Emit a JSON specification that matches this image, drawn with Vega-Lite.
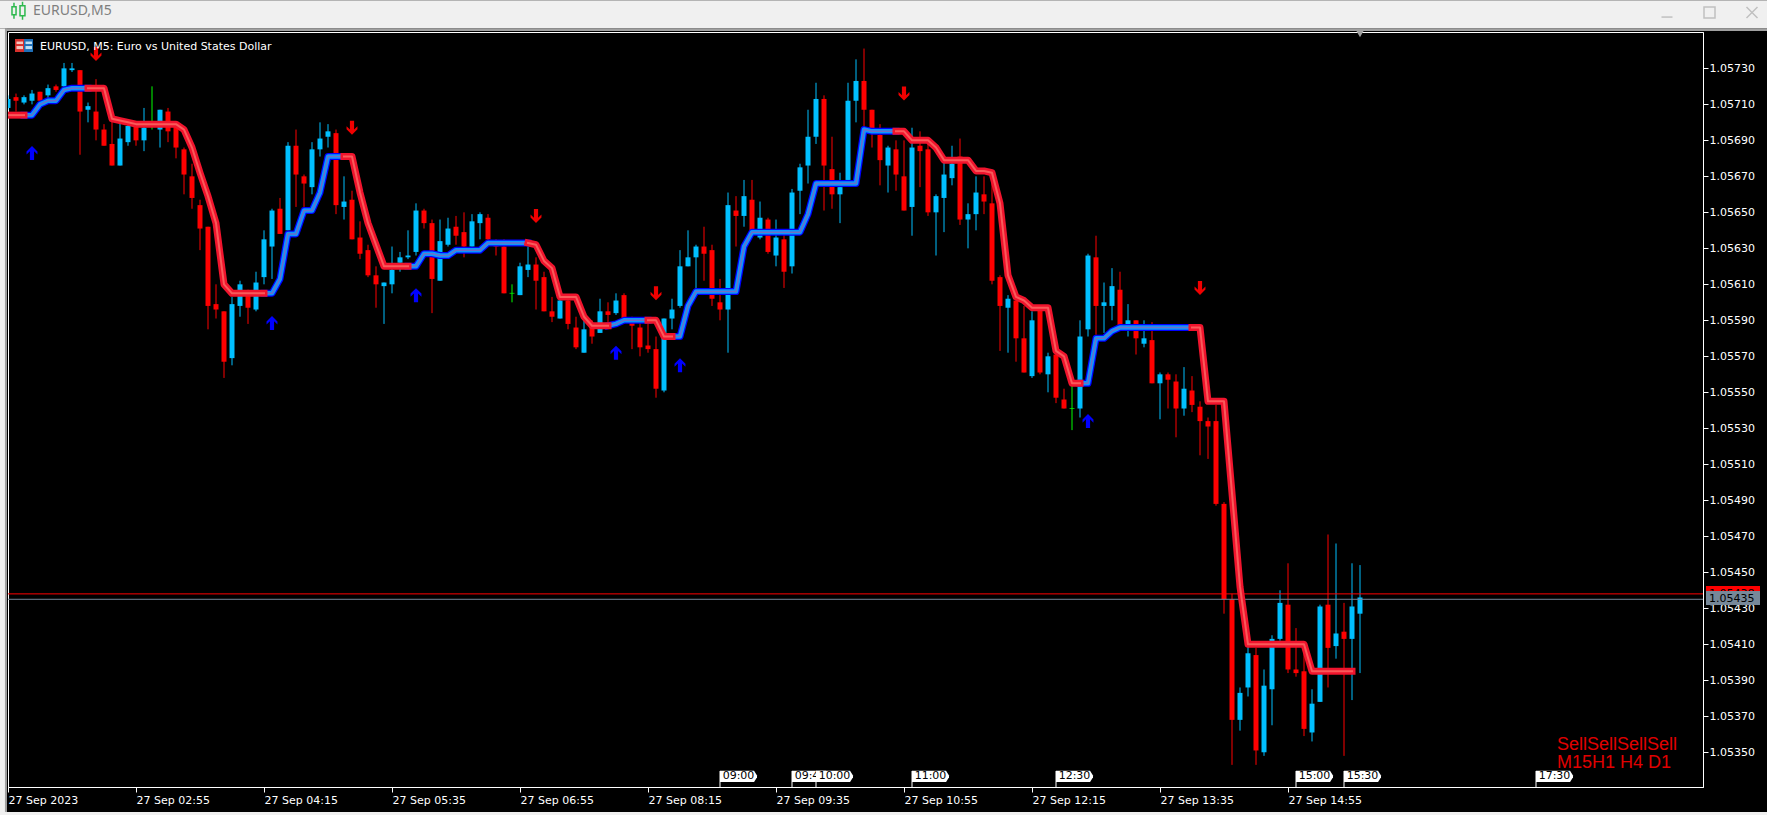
{"$schema":"https://vega.github.io/schema/vega-lite/v6.json","width":1695,"height":755,"autosize":{"type":"none"},"padding":{"left":8,"top":32,"right":64,"bottom":28},"background":"#000000","config":{"view":{"stroke":"#ffffff","strokeWidth":1,"fill":"#000000"},"font":"DejaVu Sans","axis":{"labelOverlap":false},"scale":{"continuousPadding":0}},
"datasets":{
"candles":[
{"t":"2023-09-27T01:35","o":1.05708,"h":1.05715,"l":1.05707,"c":1.05713},
{"t":"2023-09-27T01:40","o":1.05714,"h":1.05716,"l":1.05706,"c":1.05712},
{"t":"2023-09-27T01:45","o":1.05711,"h":1.05715,"l":1.05710,"c":1.05714},
{"t":"2023-09-27T01:50","o":1.05712,"h":1.05718,"l":1.05710,"c":1.05716},
{"t":"2023-09-27T01:55","o":1.05717,"h":1.05717,"l":1.05711,"c":1.05712},
{"t":"2023-09-27T02:00","o":1.05715,"h":1.05721,"l":1.05713,"c":1.05719},
{"t":"2023-09-27T02:05","o":1.05720,"h":1.05721,"l":1.05717,"c":1.05718},
{"t":"2023-09-27T02:10","o":1.05720,"h":1.05733,"l":1.05719,"c":1.05730},
{"t":"2023-09-27T02:15","o":1.05729,"h":1.05733,"l":1.05728,"c":1.05730},
{"t":"2023-09-27T02:20","o":1.05729,"h":1.05729,"l":1.05682,"c":1.05706},
{"t":"2023-09-27T02:25","o":1.05707,"h":1.05711,"l":1.05700,"c":1.05709},
{"t":"2023-09-27T02:30","o":1.05706,"h":1.05724,"l":1.05690,"c":1.05696},
{"t":"2023-09-27T02:35","o":1.05696,"h":1.05699,"l":1.05687,"c":1.05687},
{"t":"2023-09-27T02:40","o":1.05688,"h":1.05703,"l":1.05676,"c":1.05676},
{"t":"2023-09-27T02:45","o":1.05676,"h":1.05701,"l":1.05676,"c":1.05691},
{"t":"2023-09-27T02:50","o":1.05689,"h":1.05700,"l":1.05687,"c":1.05698},
{"t":"2023-09-27T02:55","o":1.05698,"h":1.05700,"l":1.05687,"c":1.05690},
{"t":"2023-09-27T03:00","o":1.05690,"h":1.05708,"l":1.05684,"c":1.05697},
{"t":"2023-09-27T03:05","o":1.05699,"h":1.05720,"l":1.05696,"c":1.05699},
{"t":"2023-09-27T03:10","o":1.05696,"h":1.05707,"l":1.05686,"c":1.05707},
{"t":"2023-09-27T03:15","o":1.05706,"h":1.05708,"l":1.05689,"c":1.05695},
{"t":"2023-09-27T03:20","o":1.05698,"h":1.05700,"l":1.05680,"c":1.05686},
{"t":"2023-09-27T03:25","o":1.05685,"h":1.05686,"l":1.05660,"c":1.05671},
{"t":"2023-09-27T03:30","o":1.05670,"h":1.05677,"l":1.05652,"c":1.05658},
{"t":"2023-09-27T03:35","o":1.05654,"h":1.05657,"l":1.05629,"c":1.05641},
{"t":"2023-09-27T03:40","o":1.05642,"h":1.05642,"l":1.05585,"c":1.05598},
{"t":"2023-09-27T03:45","o":1.05599,"h":1.05610,"l":1.05591,"c":1.05596},
{"t":"2023-09-27T03:50","o":1.05595,"h":1.05595,"l":1.05558,"c":1.05567},
{"t":"2023-09-27T03:55","o":1.05569,"h":1.05603,"l":1.05565,"c":1.05599},
{"t":"2023-09-27T04:00","o":1.05598,"h":1.05612,"l":1.05592,"c":1.05610},
{"t":"2023-09-27T04:05","o":1.05605,"h":1.05607,"l":1.05588,"c":1.05597},
{"t":"2023-09-27T04:10","o":1.05596,"h":1.05617,"l":1.05595,"c":1.05611},
{"t":"2023-09-27T04:15","o":1.05614,"h":1.05640,"l":1.05610,"c":1.05635},
{"t":"2023-09-27T04:20","o":1.05631,"h":1.05652,"l":1.05613,"c":1.05651},
{"t":"2023-09-27T04:25","o":1.05652,"h":1.05658,"l":1.05638,"c":1.05638},
{"t":"2023-09-27T04:30","o":1.05640,"h":1.05689,"l":1.05640,"c":1.05687},
{"t":"2023-09-27T04:35","o":1.05687,"h":1.05696,"l":1.05653,"c":1.05671},
{"t":"2023-09-27T04:40","o":1.05670,"h":1.05671,"l":1.05653,"c":1.05666},
{"t":"2023-09-27T04:45","o":1.05664,"h":1.05689,"l":1.05660,"c":1.05685},
{"t":"2023-09-27T04:50","o":1.05685,"h":1.05700,"l":1.05681,"c":1.05691},
{"t":"2023-09-27T04:55","o":1.05692,"h":1.05699,"l":1.05686,"c":1.05695},
{"t":"2023-09-27T05:00","o":1.05694,"h":1.05696,"l":1.05649,"c":1.05654},
{"t":"2023-09-27T05:05","o":1.05653,"h":1.05670,"l":1.05646,"c":1.05656},
{"t":"2023-09-27T05:10","o":1.05657,"h":1.05662,"l":1.05635,"c":1.05635},
{"t":"2023-09-27T05:15","o":1.05636,"h":1.05645,"l":1.05624,"c":1.05627},
{"t":"2023-09-27T05:20","o":1.05629,"h":1.05632,"l":1.05614,"c":1.05615},
{"t":"2023-09-27T05:25","o":1.05615,"h":1.05620,"l":1.05597,"c":1.05610},
{"t":"2023-09-27T05:30","o":1.05609,"h":1.05611,"l":1.05588,"c":1.05611},
{"t":"2023-09-27T05:35","o":1.05610,"h":1.05631,"l":1.05605,"c":1.05618},
{"t":"2023-09-27T05:40","o":1.05622,"h":1.05628,"l":1.05617,"c":1.05625},
{"t":"2023-09-27T05:45","o":1.05625,"h":1.05640,"l":1.05624,"c":1.05626},
{"t":"2023-09-27T05:50","o":1.05628,"h":1.05655,"l":1.05626,"c":1.05651},
{"t":"2023-09-27T05:55","o":1.05651,"h":1.05652,"l":1.05641,"c":1.05644},
{"t":"2023-09-27T06:00","o":1.05644,"h":1.05646,"l":1.05594,"c":1.05613},
{"t":"2023-09-27T06:05","o":1.05612,"h":1.05646,"l":1.05612,"c":1.05634},
{"t":"2023-09-27T06:10","o":1.05632,"h":1.05647,"l":1.05631,"c":1.05641},
{"t":"2023-09-27T06:15","o":1.05642,"h":1.05648,"l":1.05632,"c":1.05637},
{"t":"2023-09-27T06:20","o":1.05639,"h":1.05650,"l":1.05625,"c":1.05631},
{"t":"2023-09-27T06:25","o":1.05631,"h":1.05649,"l":1.05631,"c":1.05645},
{"t":"2023-09-27T06:30","o":1.05644,"h":1.05650,"l":1.05635,"c":1.05649},
{"t":"2023-09-27T06:35","o":1.05647,"h":1.05649,"l":1.05633,"c":1.05635},
{"t":"2023-09-27T06:40","o":1.05634,"h":1.05635,"l":1.05626,"c":1.05631},
{"t":"2023-09-27T06:45","o":1.05631,"h":1.05635,"l":1.05605,"c":1.05605},
{"t":"2023-09-27T06:50","o":1.05605,"h":1.05610,"l":1.05600,"c":1.05605},
{"t":"2023-09-27T06:55","o":1.05604,"h":1.05622,"l":1.05604,"c":1.05620},
{"t":"2023-09-27T07:00","o":1.05618,"h":1.05631,"l":1.05614,"c":1.05621},
{"t":"2023-09-27T07:05","o":1.05621,"h":1.05625,"l":1.05596,"c":1.05612},
{"t":"2023-09-27T07:10","o":1.05614,"h":1.05617,"l":1.05595,"c":1.05595},
{"t":"2023-09-27T07:15","o":1.05595,"h":1.05603,"l":1.05589,"c":1.05592},
{"t":"2023-09-27T07:20","o":1.05591,"h":1.05604,"l":1.05591,"c":1.05601},
{"t":"2023-09-27T07:25","o":1.05601,"h":1.05603,"l":1.05585,"c":1.05588},
{"t":"2023-09-27T07:30","o":1.05586,"h":1.05592,"l":1.05574,"c":1.05575},
{"t":"2023-09-27T07:35","o":1.05572,"h":1.05592,"l":1.05572,"c":1.05585},
{"t":"2023-09-27T07:40","o":1.05587,"h":1.05590,"l":1.05577,"c":1.05581},
{"t":"2023-09-27T07:45","o":1.05583,"h":1.05602,"l":1.05583,"c":1.05595},
{"t":"2023-09-27T07:50","o":1.05595,"h":1.05600,"l":1.05587,"c":1.05593},
{"t":"2023-09-27T07:55","o":1.05594,"h":1.05605,"l":1.05593,"c":1.05601},
{"t":"2023-09-27T08:00","o":1.05604,"h":1.05605,"l":1.05588,"c":1.05590},
{"t":"2023-09-27T08:05","o":1.05589,"h":1.05592,"l":1.05574,"c":1.05587},
{"t":"2023-09-27T08:10","o":1.05586,"h":1.05591,"l":1.05570,"c":1.05575},
{"t":"2023-09-27T08:15","o":1.05576,"h":1.05590,"l":1.05572,"c":1.05574},
{"t":"2023-09-27T08:20","o":1.05574,"h":1.05581,"l":1.05547,"c":1.05552},
{"t":"2023-09-27T08:25","o":1.05551,"h":1.05591,"l":1.05550,"c":1.05591},
{"t":"2023-09-27T08:30","o":1.05591,"h":1.05602,"l":1.05585,"c":1.05596},
{"t":"2023-09-27T08:35","o":1.05598,"h":1.05629,"l":1.05597,"c":1.05620},
{"t":"2023-09-27T08:40","o":1.05620,"h":1.05640,"l":1.05620,"c":1.05625},
{"t":"2023-09-27T08:45","o":1.05625,"h":1.05632,"l":1.05607,"c":1.05631},
{"t":"2023-09-27T08:50","o":1.05631,"h":1.05642,"l":1.05612,"c":1.05627},
{"t":"2023-09-27T08:55","o":1.05629,"h":1.05632,"l":1.05598,"c":1.05602},
{"t":"2023-09-27T09:00","o":1.05600,"h":1.05613,"l":1.05590,"c":1.05596},
{"t":"2023-09-27T09:05","o":1.05596,"h":1.05661,"l":1.05572,"c":1.05654},
{"t":"2023-09-27T09:10","o":1.05651,"h":1.05659,"l":1.05631,"c":1.05648},
{"t":"2023-09-27T09:15","o":1.05648,"h":1.05668,"l":1.05642,"c":1.05659},
{"t":"2023-09-27T09:20","o":1.05657,"h":1.05668,"l":1.05638,"c":1.05640},
{"t":"2023-09-27T09:25","o":1.05636,"h":1.05656,"l":1.05635,"c":1.05647},
{"t":"2023-09-27T09:30","o":1.05646,"h":1.05647,"l":1.05627,"c":1.05628},
{"t":"2023-09-27T09:35","o":1.05626,"h":1.05646,"l":1.05620,"c":1.05636},
{"t":"2023-09-27T09:40","o":1.05635,"h":1.05638,"l":1.05608,"c":1.05617},
{"t":"2023-09-27T09:45","o":1.05620,"h":1.05663,"l":1.05616,"c":1.05661},
{"t":"2023-09-27T09:50","o":1.05662,"h":1.05677,"l":1.05649,"c":1.05675},
{"t":"2023-09-27T09:55","o":1.05676,"h":1.05707,"l":1.05666,"c":1.05692},
{"t":"2023-09-27T10:00","o":1.05692,"h":1.05722,"l":1.05688,"c":1.05713},
{"t":"2023-09-27T10:05","o":1.05713,"h":1.05715,"l":1.05651,"c":1.05676},
{"t":"2023-09-27T10:10","o":1.05674,"h":1.05692,"l":1.05652,"c":1.05660},
{"t":"2023-09-27T10:15","o":1.05660,"h":1.05672,"l":1.05644,"c":1.05664},
{"t":"2023-09-27T10:20","o":1.05668,"h":1.05722,"l":1.05668,"c":1.05712},
{"t":"2023-09-27T10:25","o":1.05712,"h":1.05735,"l":1.05700,"c":1.05723},
{"t":"2023-09-27T10:30","o":1.05723,"h":1.05741,"l":1.05696,"c":1.05707},
{"t":"2023-09-27T10:35","o":1.05707,"h":1.05707,"l":1.05686,"c":1.05696},
{"t":"2023-09-27T10:40","o":1.05693,"h":1.05699,"l":1.05665,"c":1.05679},
{"t":"2023-09-27T10:45","o":1.05676,"h":1.05687,"l":1.05661,"c":1.05686},
{"t":"2023-09-27T10:50","o":1.05685,"h":1.05690,"l":1.05662,"c":1.05671},
{"t":"2023-09-27T10:55","o":1.05670,"h":1.05690,"l":1.05651,"c":1.05651},
{"t":"2023-09-27T11:00","o":1.05653,"h":1.05697,"l":1.05637,"c":1.05686},
{"t":"2023-09-27T11:05","o":1.05687,"h":1.05695,"l":1.05664,"c":1.05684},
{"t":"2023-09-27T11:10","o":1.05685,"h":1.05690,"l":1.05648,"c":1.05650},
{"t":"2023-09-27T11:15","o":1.05650,"h":1.05660,"l":1.05626,"c":1.05659},
{"t":"2023-09-27T11:20","o":1.05658,"h":1.05681,"l":1.05639,"c":1.05671},
{"t":"2023-09-27T11:25","o":1.05669,"h":1.05687,"l":1.05665,"c":1.05677},
{"t":"2023-09-27T11:30","o":1.05681,"h":1.05691,"l":1.05643,"c":1.05646},
{"t":"2023-09-27T11:35","o":1.05646,"h":1.05655,"l":1.05630,"c":1.05649},
{"t":"2023-09-27T11:40","o":1.05649,"h":1.05670,"l":1.05640,"c":1.05661},
{"t":"2023-09-27T11:45","o":1.05660,"h":1.05670,"l":1.05649,"c":1.05656},
{"t":"2023-09-27T11:50","o":1.05655,"h":1.05671,"l":1.05610,"c":1.05612},
{"t":"2023-09-27T11:55","o":1.05614,"h":1.05615,"l":1.05573,"c":1.05598},
{"t":"2023-09-27T12:00","o":1.05597,"h":1.05604,"l":1.05572,"c":1.05602},
{"t":"2023-09-27T12:05","o":1.05601,"h":1.05603,"l":1.05567,"c":1.05580},
{"t":"2023-09-27T12:10","o":1.05580,"h":1.05598,"l":1.05561,"c":1.05561},
{"t":"2023-09-27T12:15","o":1.05559,"h":1.05595,"l":1.05558,"c":1.05590},
{"t":"2023-09-27T12:20","o":1.05596,"h":1.05598,"l":1.05560,"c":1.05561},
{"t":"2023-09-27T12:25","o":1.05560,"h":1.05572,"l":1.05550,"c":1.05570},
{"t":"2023-09-27T12:30","o":1.05571,"h":1.05574,"l":1.05544,"c":1.05547},
{"t":"2023-09-27T12:35","o":1.05546,"h":1.05552,"l":1.05541,"c":1.05541},
{"t":"2023-09-27T12:40","o":1.05541,"h":1.05554,"l":1.05529,"c":1.05541},
{"t":"2023-09-27T12:45","o":1.05541,"h":1.05590,"l":1.05536,"c":1.05581},
{"t":"2023-09-27T12:50","o":1.05585,"h":1.05627,"l":1.05581,"c":1.05626},
{"t":"2023-09-27T12:55","o":1.05625,"h":1.05637,"l":1.05582,"c":1.05598},
{"t":"2023-09-27T13:00","o":1.05598,"h":1.05611,"l":1.05583,"c":1.05600},
{"t":"2023-09-27T13:05","o":1.05598,"h":1.05619,"l":1.05590,"c":1.05609},
{"t":"2023-09-27T13:10","o":1.05607,"h":1.05617,"l":1.05586,"c":1.05587},
{"t":"2023-09-27T13:15","o":1.05586,"h":1.05599,"l":1.05581,"c":1.05590},
{"t":"2023-09-27T13:20","o":1.05590,"h":1.05590,"l":1.05571,"c":1.05580},
{"t":"2023-09-27T13:25","o":1.05577,"h":1.05590,"l":1.05575,"c":1.05580},
{"t":"2023-09-27T13:30","o":1.05579,"h":1.05589,"l":1.05555,"c":1.05555},
{"t":"2023-09-27T13:35","o":1.05555,"h":1.05561,"l":1.05535,"c":1.05560},
{"t":"2023-09-27T13:40","o":1.05560,"h":1.05561,"l":1.05541,"c":1.05557},
{"t":"2023-09-27T13:45","o":1.05556,"h":1.05560,"l":1.05525,"c":1.05541},
{"t":"2023-09-27T13:50","o":1.05541,"h":1.05564,"l":1.05537,"c":1.05552},
{"t":"2023-09-27T13:55","o":1.05551,"h":1.05559,"l":1.05539,"c":1.05543},
{"t":"2023-09-27T14:00","o":1.05542,"h":1.05545,"l":1.05515,"c":1.05534},
{"t":"2023-09-27T14:05","o":1.05534,"h":1.05536,"l":1.05513,"c":1.05531},
{"t":"2023-09-27T14:10","o":1.05534,"h":1.05543,"l":1.05487,"c":1.05488},
{"t":"2023-09-27T14:15","o":1.05488,"h":1.05489,"l":1.05427,"c":1.05435},
{"t":"2023-09-27T14:20","o":1.05435,"h":1.05438,"l":1.05343,"c":1.05368},
{"t":"2023-09-27T14:25","o":1.05368,"h":1.05386,"l":1.05362,"c":1.05383},
{"t":"2023-09-27T14:30","o":1.05386,"h":1.05409,"l":1.05381,"c":1.05405},
{"t":"2023-09-27T14:35","o":1.05404,"h":1.05408,"l":1.05343,"c":1.05351},
{"t":"2023-09-27T14:40","o":1.05350,"h":1.05396,"l":1.05348,"c":1.05387},
{"t":"2023-09-27T14:45","o":1.05385,"h":1.05415,"l":1.05365,"c":1.05413},
{"t":"2023-09-27T14:50","o":1.05413,"h":1.05440,"l":1.05412,"c":1.05433},
{"t":"2023-09-27T14:55","o":1.05432,"h":1.05455,"l":1.05394,"c":1.05396},
{"t":"2023-09-27T15:00","o":1.05396,"h":1.05419,"l":1.05392,"c":1.05394},
{"t":"2023-09-27T15:05","o":1.05395,"h":1.05409,"l":1.05359,"c":1.05363},
{"t":"2023-09-27T15:10","o":1.05361,"h":1.05385,"l":1.05356,"c":1.05377},
{"t":"2023-09-27T15:15","o":1.05378,"h":1.05432,"l":1.05378,"c":1.05431},
{"t":"2023-09-27T15:20","o":1.05432,"h":1.05471,"l":1.05386,"c":1.05408},
{"t":"2023-09-27T15:25","o":1.05409,"h":1.05466,"l":1.05402,"c":1.05416},
{"t":"2023-09-27T15:30","o":1.05417,"h":1.05433,"l":1.05348,"c":1.05413},
{"t":"2023-09-27T15:35","o":1.05413,"h":1.05455,"l":1.05379,"c":1.05431},
{"t":"2023-09-27T15:40","o":1.05427,"h":1.05454,"l":1.05394,"c":1.05436}
],
"line":[
{"t":"2023-09-27T01:35","p":1.05704,"seg":"a","trend":"down"},{"t":"2023-09-27T01:40","p":1.05704,"seg":"a","trend":"down"},{"t":"2023-09-27T01:45","p":1.05704,"seg":"a","trend":"down"},
{"t":"2023-09-27T01:45","p":1.05704,"seg":"b","trend":"up"},{"t":"2023-09-27T01:50","p":1.05704,"seg":"b","trend":"up"},{"t":"2023-09-27T01:55","p":1.05710,"seg":"b","trend":"up"},{"t":"2023-09-27T02:00","p":1.05712,"seg":"b","trend":"up"},{"t":"2023-09-27T02:05","p":1.05712,"seg":"b","trend":"up"},{"t":"2023-09-27T02:10","p":1.05718,"seg":"b","trend":"up"},{"t":"2023-09-27T02:15","p":1.05719,"seg":"b","trend":"up"},{"t":"2023-09-27T02:20","p":1.05719,"seg":"b","trend":"up"},{"t":"2023-09-27T02:25","p":1.05719,"seg":"b","trend":"up"},
{"t":"2023-09-27T02:25","p":1.05719,"seg":"c","trend":"down"},{"t":"2023-09-27T02:30","p":1.05719,"seg":"c","trend":"down"},{"t":"2023-09-27T02:35","p":1.05719,"seg":"c","trend":"down"},{"t":"2023-09-27T02:40","p":1.05702,"seg":"c","trend":"down"},{"t":"2023-09-27T02:45","p":1.05701,"seg":"c","trend":"down"},{"t":"2023-09-27T02:50","p":1.05700,"seg":"c","trend":"down"},{"t":"2023-09-27T02:55","p":1.05699,"seg":"c","trend":"down"},{"t":"2023-09-27T03:00","p":1.05699,"seg":"c","trend":"down"},{"t":"2023-09-27T03:05","p":1.05699,"seg":"c","trend":"down"},{"t":"2023-09-27T03:10","p":1.05699,"seg":"c","trend":"down"},{"t":"2023-09-27T03:15","p":1.05699,"seg":"c","trend":"down"},{"t":"2023-09-27T03:20","p":1.05699,"seg":"c","trend":"down"},{"t":"2023-09-27T03:25","p":1.05696,"seg":"c","trend":"down"},{"t":"2023-09-27T03:30","p":1.05686,"seg":"c","trend":"down"},{"t":"2023-09-27T03:35","p":1.05672,"seg":"c","trend":"down"},{"t":"2023-09-27T03:40","p":1.05659,"seg":"c","trend":"down"},{"t":"2023-09-27T03:45","p":1.05644,"seg":"c","trend":"down"},{"t":"2023-09-27T03:50","p":1.05610,"seg":"c","trend":"down"},{"t":"2023-09-27T03:55","p":1.05605,"seg":"c","trend":"down"},{"t":"2023-09-27T04:00","p":1.05605,"seg":"c","trend":"down"},{"t":"2023-09-27T04:05","p":1.05605,"seg":"c","trend":"down"},{"t":"2023-09-27T04:10","p":1.05605,"seg":"c","trend":"down"},{"t":"2023-09-27T04:15","p":1.05605,"seg":"c","trend":"down"},
{"t":"2023-09-27T04:15","p":1.05605,"seg":"d","trend":"up"},{"t":"2023-09-27T04:20","p":1.05605,"seg":"d","trend":"up"},{"t":"2023-09-27T04:25","p":1.05613,"seg":"d","trend":"up"},{"t":"2023-09-27T04:30","p":1.05638,"seg":"d","trend":"up"},{"t":"2023-09-27T04:35","p":1.05638,"seg":"d","trend":"up"},{"t":"2023-09-27T04:40","p":1.05651,"seg":"d","trend":"up"},{"t":"2023-09-27T04:45","p":1.05651,"seg":"d","trend":"up"},{"t":"2023-09-27T04:50","p":1.05661,"seg":"d","trend":"up"},{"t":"2023-09-27T04:55","p":1.05681,"seg":"d","trend":"up"},{"t":"2023-09-27T05:00","p":1.05681,"seg":"d","trend":"up"},{"t":"2023-09-27T05:05","p":1.05681,"seg":"d","trend":"up"},
{"t":"2023-09-27T05:05","p":1.05681,"seg":"e","trend":"down"},{"t":"2023-09-27T05:10","p":1.05681,"seg":"e","trend":"down"},{"t":"2023-09-27T05:15","p":1.05661,"seg":"e","trend":"down"},{"t":"2023-09-27T05:20","p":1.05644,"seg":"e","trend":"down"},{"t":"2023-09-27T05:25","p":1.05632,"seg":"e","trend":"down"},{"t":"2023-09-27T05:30","p":1.05620,"seg":"e","trend":"down"},{"t":"2023-09-27T05:35","p":1.05620,"seg":"e","trend":"down"},{"t":"2023-09-27T05:40","p":1.05620,"seg":"e","trend":"down"},{"t":"2023-09-27T05:45","p":1.05620,"seg":"e","trend":"down"},
{"t":"2023-09-27T05:45","p":1.05620,"seg":"f","trend":"up"},{"t":"2023-09-27T05:50","p":1.05620,"seg":"f","trend":"up"},{"t":"2023-09-27T05:55","p":1.05627,"seg":"f","trend":"up"},{"t":"2023-09-27T06:00","p":1.05627,"seg":"f","trend":"up"},{"t":"2023-09-27T06:05","p":1.05626,"seg":"f","trend":"up"},{"t":"2023-09-27T06:10","p":1.05626,"seg":"f","trend":"up"},{"t":"2023-09-27T06:15","p":1.05629,"seg":"f","trend":"up"},{"t":"2023-09-27T06:20","p":1.05629,"seg":"f","trend":"up"},{"t":"2023-09-27T06:25","p":1.05629,"seg":"f","trend":"up"},{"t":"2023-09-27T06:30","p":1.05629,"seg":"f","trend":"up"},{"t":"2023-09-27T06:35","p":1.05633,"seg":"f","trend":"up"},{"t":"2023-09-27T06:40","p":1.05633,"seg":"f","trend":"up"},{"t":"2023-09-27T06:45","p":1.05633,"seg":"f","trend":"up"},{"t":"2023-09-27T06:50","p":1.05633,"seg":"f","trend":"up"},{"t":"2023-09-27T06:55","p":1.05633,"seg":"f","trend":"up"},{"t":"2023-09-27T07:00","p":1.05633,"seg":"f","trend":"up"},
{"t":"2023-09-27T07:00","p":1.05633,"seg":"g","trend":"down"},{"t":"2023-09-27T07:05","p":1.05632,"seg":"g","trend":"down"},{"t":"2023-09-27T07:10","p":1.05623,"seg":"g","trend":"down"},{"t":"2023-09-27T07:15","p":1.05619,"seg":"g","trend":"down"},{"t":"2023-09-27T07:20","p":1.05603,"seg":"g","trend":"down"},{"t":"2023-09-27T07:25","p":1.05603,"seg":"g","trend":"down"},{"t":"2023-09-27T07:30","p":1.05603,"seg":"g","trend":"down"},{"t":"2023-09-27T07:35","p":1.05592,"seg":"g","trend":"down"},{"t":"2023-09-27T07:40","p":1.05587,"seg":"g","trend":"down"},{"t":"2023-09-27T07:45","p":1.05587,"seg":"g","trend":"down"},{"t":"2023-09-27T07:50","p":1.05587,"seg":"g","trend":"down"},
{"t":"2023-09-27T07:50","p":1.05587,"seg":"h","trend":"up"},{"t":"2023-09-27T07:55","p":1.05588,"seg":"h","trend":"up"},{"t":"2023-09-27T08:00","p":1.05590,"seg":"h","trend":"up"},{"t":"2023-09-27T08:05","p":1.05590,"seg":"h","trend":"up"},{"t":"2023-09-27T08:10","p":1.05590,"seg":"h","trend":"up"},{"t":"2023-09-27T08:15","p":1.05590,"seg":"h","trend":"up"},
{"t":"2023-09-27T08:15","p":1.05590,"seg":"i","trend":"down"},{"t":"2023-09-27T08:20","p":1.05590,"seg":"i","trend":"down"},{"t":"2023-09-27T08:25","p":1.05581,"seg":"i","trend":"down"},{"t":"2023-09-27T08:30","p":1.05581,"seg":"i","trend":"down"},
{"t":"2023-09-27T08:30","p":1.05581,"seg":"j","trend":"up"},{"t":"2023-09-27T08:35","p":1.05581,"seg":"j","trend":"up"},{"t":"2023-09-27T08:40","p":1.05598,"seg":"j","trend":"up"},{"t":"2023-09-27T08:45","p":1.05606,"seg":"j","trend":"up"},{"t":"2023-09-27T08:50","p":1.05606,"seg":"j","trend":"up"},{"t":"2023-09-27T08:55","p":1.05606,"seg":"j","trend":"up"},{"t":"2023-09-27T09:00","p":1.05606,"seg":"j","trend":"up"},{"t":"2023-09-27T09:05","p":1.05606,"seg":"j","trend":"up"},{"t":"2023-09-27T09:10","p":1.05606,"seg":"j","trend":"up"},{"t":"2023-09-27T09:15","p":1.05631,"seg":"j","trend":"up"},{"t":"2023-09-27T09:20","p":1.05639,"seg":"j","trend":"up"},{"t":"2023-09-27T09:25","p":1.05639,"seg":"j","trend":"up"},{"t":"2023-09-27T09:30","p":1.05639,"seg":"j","trend":"up"},{"t":"2023-09-27T09:35","p":1.05639,"seg":"j","trend":"up"},{"t":"2023-09-27T09:40","p":1.05639,"seg":"j","trend":"up"},{"t":"2023-09-27T09:45","p":1.05639,"seg":"j","trend":"up"},{"t":"2023-09-27T09:50","p":1.05639,"seg":"j","trend":"up"},{"t":"2023-09-27T09:55","p":1.05649,"seg":"j","trend":"up"},{"t":"2023-09-27T10:00","p":1.05666,"seg":"j","trend":"up"},{"t":"2023-09-27T10:05","p":1.05666,"seg":"j","trend":"up"},{"t":"2023-09-27T10:10","p":1.05666,"seg":"j","trend":"up"},{"t":"2023-09-27T10:15","p":1.05666,"seg":"j","trend":"up"},{"t":"2023-09-27T10:20","p":1.05666,"seg":"j","trend":"up"},{"t":"2023-09-27T10:25","p":1.05666,"seg":"j","trend":"up"},{"t":"2023-09-27T10:30","p":1.05696,"seg":"j","trend":"up"},{"t":"2023-09-27T10:35","p":1.05695,"seg":"j","trend":"up"},{"t":"2023-09-27T10:40","p":1.05695,"seg":"j","trend":"up"},{"t":"2023-09-27T10:45","p":1.05695,"seg":"j","trend":"up"},{"t":"2023-09-27T10:50","p":1.05695,"seg":"j","trend":"up"},
{"t":"2023-09-27T10:50","p":1.05695,"seg":"k","trend":"down"},{"t":"2023-09-27T10:55","p":1.05695,"seg":"k","trend":"down"},{"t":"2023-09-27T11:00","p":1.05690,"seg":"k","trend":"down"},{"t":"2023-09-27T11:05","p":1.05690,"seg":"k","trend":"down"},{"t":"2023-09-27T11:10","p":1.05690,"seg":"k","trend":"down"},{"t":"2023-09-27T11:15","p":1.05686,"seg":"k","trend":"down"},{"t":"2023-09-27T11:20","p":1.05679,"seg":"k","trend":"down"},{"t":"2023-09-27T11:25","p":1.05679,"seg":"k","trend":"down"},{"t":"2023-09-27T11:30","p":1.05679,"seg":"k","trend":"down"},{"t":"2023-09-27T11:35","p":1.05679,"seg":"k","trend":"down"},{"t":"2023-09-27T11:40","p":1.05673,"seg":"k","trend":"down"},{"t":"2023-09-27T11:45","p":1.05673,"seg":"k","trend":"down"},{"t":"2023-09-27T11:50","p":1.05672,"seg":"k","trend":"down"},{"t":"2023-09-27T11:55","p":1.05655,"seg":"k","trend":"down"},{"t":"2023-09-27T12:00","p":1.05615,"seg":"k","trend":"down"},{"t":"2023-09-27T12:05","p":1.05603,"seg":"k","trend":"down"},{"t":"2023-09-27T12:10","p":1.05601,"seg":"k","trend":"down"},{"t":"2023-09-27T12:15","p":1.05597,"seg":"k","trend":"down"},{"t":"2023-09-27T12:20","p":1.05597,"seg":"k","trend":"down"},{"t":"2023-09-27T12:25","p":1.05597,"seg":"k","trend":"down"},{"t":"2023-09-27T12:30","p":1.05573,"seg":"k","trend":"down"},{"t":"2023-09-27T12:35","p":1.05570,"seg":"k","trend":"down"},{"t":"2023-09-27T12:40","p":1.05555,"seg":"k","trend":"down"},{"t":"2023-09-27T12:45","p":1.05555,"seg":"k","trend":"down"},
{"t":"2023-09-27T12:45","p":1.05555,"seg":"l","trend":"up"},{"t":"2023-09-27T12:50","p":1.05555,"seg":"l","trend":"up"},{"t":"2023-09-27T12:55","p":1.05580,"seg":"l","trend":"up"},{"t":"2023-09-27T13:00","p":1.05580,"seg":"l","trend":"up"},{"t":"2023-09-27T13:05","p":1.05584,"seg":"l","trend":"up"},{"t":"2023-09-27T13:10","p":1.05586,"seg":"l","trend":"up"},{"t":"2023-09-27T13:15","p":1.05586,"seg":"l","trend":"up"},{"t":"2023-09-27T13:20","p":1.05586,"seg":"l","trend":"up"},{"t":"2023-09-27T13:25","p":1.05586,"seg":"l","trend":"up"},{"t":"2023-09-27T13:30","p":1.05586,"seg":"l","trend":"up"},{"t":"2023-09-27T13:35","p":1.05586,"seg":"l","trend":"up"},{"t":"2023-09-27T13:40","p":1.05586,"seg":"l","trend":"up"},{"t":"2023-09-27T13:45","p":1.05586,"seg":"l","trend":"up"},{"t":"2023-09-27T13:50","p":1.05586,"seg":"l","trend":"up"},{"t":"2023-09-27T13:55","p":1.05586,"seg":"l","trend":"up"},
{"t":"2023-09-27T13:55","p":1.05586,"seg":"m","trend":"down"},{"t":"2023-09-27T14:00","p":1.05586,"seg":"m","trend":"down"},{"t":"2023-09-27T14:05","p":1.05545,"seg":"m","trend":"down"},{"t":"2023-09-27T14:10","p":1.05545,"seg":"m","trend":"down"},{"t":"2023-09-27T14:15","p":1.05545,"seg":"m","trend":"down"},{"t":"2023-09-27T14:20","p":1.05494,"seg":"m","trend":"down"},{"t":"2023-09-27T14:25","p":1.05442,"seg":"m","trend":"down"},{"t":"2023-09-27T14:30","p":1.05410,"seg":"m","trend":"down"},{"t":"2023-09-27T14:35","p":1.05410,"seg":"m","trend":"down"},{"t":"2023-09-27T14:40","p":1.05410,"seg":"m","trend":"down"},{"t":"2023-09-27T14:45","p":1.05410,"seg":"m","trend":"down"},{"t":"2023-09-27T14:50","p":1.05410,"seg":"m","trend":"down"},{"t":"2023-09-27T14:55","p":1.05410,"seg":"m","trend":"down"},{"t":"2023-09-27T15:00","p":1.05410,"seg":"m","trend":"down"},{"t":"2023-09-27T15:05","p":1.05410,"seg":"m","trend":"down"},{"t":"2023-09-27T15:10","p":1.05395,"seg":"m","trend":"down"},{"t":"2023-09-27T15:15","p":1.05395,"seg":"m","trend":"down"},{"t":"2023-09-27T15:20","p":1.05395,"seg":"m","trend":"down"},{"t":"2023-09-27T15:25","p":1.05395,"seg":"m","trend":"down"},{"t":"2023-09-27T15:30","p":1.05395,"seg":"m","trend":"down"},{"t":"2023-09-27T15:35","p":1.05395,"seg":"m","trend":"down"}
],
"arrows":[
{"t":"2023-09-27T02:30","p":1.05738,"dir":"down"},{"t":"2023-09-27T05:10","p":1.05697,"dir":"down"},{"t":"2023-09-27T07:05","p":1.05648,"dir":"down"},{"t":"2023-09-27T08:20","p":1.05605,"dir":"down"},{"t":"2023-09-27T10:55","p":1.05716,"dir":"down"},{"t":"2023-09-27T14:00","p":1.05608,"dir":"down"},
{"t":"2023-09-27T01:50","p":1.05683,"dir":"up"},{"t":"2023-09-27T04:20","p":1.055885,"dir":"up"},{"t":"2023-09-27T05:50","p":1.05604,"dir":"up"},{"t":"2023-09-27T07:55","p":1.05572,"dir":"up"},{"t":"2023-09-27T08:35","p":1.05565,"dir":"up"},{"t":"2023-09-27T12:50","p":1.05534,"dir":"up"}
],
"prices":[{"name":"ask","p":1.05438},{"name":"bid","p":1.05435}],
"tags":[
{"label":"09:45","t":"2023-09-27T09:45","mid":"2023-09-27T09:56:34","top":1.053396,"base":1.053307,"ctr":1.053366},
{"label":"09:00","t":"2023-09-27T09:00","mid":"2023-09-27T09:11:34","top":1.053396,"base":1.053307,"ctr":1.053366},
{"label":"10:00","t":"2023-09-27T10:00","mid":"2023-09-27T10:11:34","top":1.053396,"base":1.053307,"ctr":1.053366},
{"label":"11:00","t":"2023-09-27T11:00","mid":"2023-09-27T11:11:34","top":1.053396,"base":1.053307,"ctr":1.053366},
{"label":"12:30","t":"2023-09-27T12:30","mid":"2023-09-27T12:41:34","top":1.053396,"base":1.053307,"ctr":1.053366},
{"label":"15:00","t":"2023-09-27T15:00","mid":"2023-09-27T15:11:34","top":1.053396,"base":1.053307,"ctr":1.053366},
{"label":"15:30","t":"2023-09-27T15:30","mid":"2023-09-27T15:41:34","top":1.053396,"base":1.053307,"ctr":1.053366},
{"label":"17:30","t":"2023-09-27T17:30","mid":"2023-09-27T17:41:34","top":1.053396,"base":1.053307,"ctr":1.053366}
],
"frame":[
{"part":"light","t1":"2023-09-27T01:30:00","t2":"2023-09-27T19:54:23","p1":1.057522,"p2":1.057679},
{"part":"gray","t1":"2023-09-27T01:33:07","t2":"2023-09-27T19:54:23","p1":1.057507,"p2":1.057522},
{"part":"light","t1":"2023-09-27T01:30:00","t2":"2023-09-27T01:33:07","p1":1.053152,"p2":1.057522},
{"part":"gray","t1":"2023-09-27T01:33:07","t2":"2023-09-27T01:34:22","p1":1.053168,"p2":1.057522},
{"part":"light","t1":"2023-09-27T01:30:00","t2":"2023-09-27T19:54:23","p1":1.053152,"p2":1.053168},
{"part":"flagRed","t1":"2023-09-27T01:39:22","t2":"2023-09-27T01:45:00","p1":1.057391,"p2":1.057463},
{"part":"flagBlue","t1":"2023-09-27T01:45:00","t2":"2023-09-27T01:50:37","p1":1.057391,"p2":1.057463},
{"part":"flagPink","t1":"2023-09-27T01:40:19","t2":"2023-09-27T01:44:22","p1":1.057435,"p2":1.057449},
{"part":"flagPink","t1":"2023-09-27T01:40:19","t2":"2023-09-27T01:44:22","p1":1.057407,"p2":1.057424},
{"part":"flagSky","t1":"2023-09-27T01:45:56","t2":"2023-09-27T01:50:00","p1":1.057435,"p2":1.057449},
{"part":"flagSky","t1":"2023-09-27T01:45:56","t2":"2023-09-27T01:50:00","p1":1.057407,"p2":1.057424}
],
"boxes":[
{"name":"ask","t1":"2023-09-27T19:16:15","t2":"2023-09-27T19:50:00","p1":1.054346,"p2":1.054424,"tx":"2023-09-27T19:18:07","ty":1.05438,"label":"1.05438"},
{"name":"bid","t1":"2023-09-27T19:16:15","t2":"2023-09-27T19:50:00","p1":1.054318,"p2":1.054396,"tx":"2023-09-27T19:18:07","ty":1.05435,"label":"1.05435"}
]
},
"layer":[
{"data":{"name":"candles"},"mark":{"type":"rule","strokeWidth":1,"clip":true},
"encoding":{"x":{"field":"t","type":"temporal","scale":{"nice":false,"padding":0,"domain":[{"year":2023,"month":9,"date":27,"hours":1,"minutes":35},{"year":2023,"month":9,"date":27,"hours":19,"minutes":14,"seconds":22,"milliseconds":500}]},
"axis":{"title":null,"orient":"bottom","grid":false,"domainColor":"#ffffff","tickColor":"#ffffff","tickSize":5,"tickCount":50,"labelColor":"#ffffff","labelFont":"DejaVu Sans","labelFontSize":11,"labelAlign":"left","labelBaseline":"top","labelPadding":2,"labelOverlap":false,"labelBound":false,"labelFlush":false,
"values":[{"year":2023,"month":9,"date":27,"hours":1,"minutes":35},{"year":2023,"month":9,"date":27,"hours":2,"minutes":55},{"year":2023,"month":9,"date":27,"hours":4,"minutes":15},{"year":2023,"month":9,"date":27,"hours":5,"minutes":35},{"year":2023,"month":9,"date":27,"hours":6,"minutes":55},{"year":2023,"month":9,"date":27,"hours":8,"minutes":15},{"year":2023,"month":9,"date":27,"hours":9,"minutes":35},{"year":2023,"month":9,"date":27,"hours":10,"minutes":55},{"year":2023,"month":9,"date":27,"hours":12,"minutes":15},{"year":2023,"month":9,"date":27,"hours":13,"minutes":35},{"year":2023,"month":9,"date":27,"hours":14,"minutes":55}],
"labelExpr":"timeFormat(datum.value,'%H:%M')=='01:35' ? '27 Sep 2023' : timeFormat(datum.value,'%d %b %H:%M')"}},
"y":{"field":"l","type":"quantitative","scale":{"domain":[1.053307,1.057502],"zero":false,"nice":false},
"axis":{"title":null,"orient":"right","grid":false,"domainColor":"#ffffff","tickColor":"#ffffff","tickSize":5,"tickCount":50,"labelColor":"#ffffff","labelFont":"DejaVu Sans","labelFontSize":11,"labelPadding":1,"labelOverlap":false,"labelBound":false,"format":".5f",
"values":[1.0573,1.0571,1.0569,1.0567,1.0565,1.0563,1.0561,1.0559,1.0557,1.0555,1.0553,1.0551,1.0549,1.0547,1.0545,1.0543,1.0541,1.0539,1.0537,1.0535]}},
"y2":{"field":"h"},
"color":{"condition":[{"test":"datum.c>datum.o","value":"#00bfff"},{"test":"datum.c<datum.o","value":"#ff0000"}],"value":"#00ff00"}}},
{"data":{"name":"candles"},"transform":[{"filter":"datum.c!=datum.o"}],"mark":{"type":"bar","size":5,"clip":true},
"encoding":{"x":{"field":"t","type":"temporal","scale":{"padding":0}},"y":{"field":"o","type":"quantitative"},"y2":{"field":"c"},
"color":{"condition":{"test":"datum.c>datum.o","value":"#00bfff"},"value":"#ff0000"}}},
{"data":{"name":"candles"},"transform":[{"filter":"datum.c==datum.o"}],"mark":{"type":"tick","orient":"horizontal","size":5,"thickness":1,"color":"#00ff00"},
"encoding":{"x":{"field":"t","type":"temporal"},"y":{"field":"o","type":"quantitative"}}},
{"data":{"name":"prices"},"mark":{"type":"rule","strokeWidth":1},"encoding":{"y":{"field":"p","type":"quantitative"},"color":{"field":"name","type":"nominal","legend":null,"scale":{"domain":["light","gray","flagRed","flagBlue","flagPink","flagSky","ask","bid"],"range":["#f0f0f0","#a0a0a0","#d8302c","#1f6fb8","#f6c6c0","#bfe0f4","#ff0000","#778899"]}}}},
{"data":{"name":"line"},"transform":[{"filter":"datum.trend=='up'"}],"mark":{"type":"line","stroke":"#0000ff","strokeWidth":7,"strokeCap":"square","strokeJoin":"round","clip":true},"encoding":{"x":{"field":"t","type":"temporal"},"y":{"field":"p","type":"quantitative"},"detail":{"field":"seg"}}},
{"data":{"name":"line"},"transform":[{"filter":"datum.trend=='up'"}],"mark":{"type":"line","stroke":"#0a96ff","strokeWidth":4.5,"strokeCap":"square","strokeJoin":"round","clip":true},"encoding":{"x":{"field":"t","type":"temporal"},"y":{"field":"p","type":"quantitative"},"detail":{"field":"seg"}}},
{"data":{"name":"line"},"transform":[{"filter":"datum.trend=='up'"}],"mark":{"type":"line","stroke":"#6f6fc4","strokeWidth":1.5,"strokeCap":"square","strokeJoin":"round","clip":true},"encoding":{"x":{"field":"t","type":"temporal"},"y":{"field":"p","type":"quantitative"},"detail":{"field":"seg"}}},
{"data":{"name":"line"},"transform":[{"filter":"datum.trend=='down'"}],"mark":{"type":"line","stroke":"#f0142d","strokeWidth":7,"strokeCap":"square","strokeJoin":"round","clip":true},"encoding":{"x":{"field":"t","type":"temporal"},"y":{"field":"p","type":"quantitative"},"detail":{"field":"seg"}}},
{"data":{"name":"line"},"transform":[{"filter":"datum.trend=='down'"}],"mark":{"type":"line","stroke":"#f95a5a","strokeWidth":2,"strokeCap":"square","strokeJoin":"round","clip":true},"encoding":{"x":{"field":"t","type":"temporal"},"y":{"field":"p","type":"quantitative"},"detail":{"field":"seg"}}},
{"data":{"name":"arrows"},"transform":[{"filter":"datum.dir=='up'"}],"mark":{"type":"point","filled":true,"opacity":1,"size":196,"color":"#0000ff","shape":"M0,-1L.78,-.22L.78,.22L.3,-.25L.3,1L-.3,1L-.3,-.25L-.78,.22L-.78,-.22Z"},"encoding":{"x":{"field":"t","type":"temporal"},"y":{"field":"p","type":"quantitative"}}},
{"data":{"name":"arrows"},"transform":[{"filter":"datum.dir=='down'"}],"mark":{"type":"point","filled":true,"opacity":1,"size":196,"color":"#f00000","shape":"M0,1L.78,.22L.78,-.22L.3,.25L.3,-1L-.3,-1L-.3,.25L-.78,-.22L-.78,.22Z"},"encoding":{"x":{"field":"t","type":"temporal"},"y":{"field":"p","type":"quantitative"}}},
{"data":{"name":"tags"},"mark":{"type":"rule","color":"#ffffff","strokeWidth":1},"encoding":{"x":{"field":"t","type":"temporal"},"y":{"field":"top","type":"quantitative"},"y2":{"field":"base"}}},
{"data":{"name":"tags"},"transform":[{"filter":"datum.label=='09:45'"}],"mark":{"type":"point","filled":true,"opacity":1,"size":1369,"color":"#ffffff","shape":"M-1,-.3L.84,-.3L1,-.05L1,.05L.84,.3L-1,.3Z"},"encoding":{"x":{"field":"mid","type":"temporal"},"y":{"field":"ctr","type":"quantitative"}}},
{"data":{"name":"tags"},"transform":[{"filter":"datum.label=='09:45'"}],"mark":{"type":"text","color":"#000000","font":"DejaVu Sans","fontSize":11,"align":"center","baseline":"middle"},"encoding":{"x":{"field":"mid","type":"temporal"},"y":{"field":"ctr","type":"quantitative"},"text":{"field":"label"}}},
{"data":{"name":"tags"},"transform":[{"filter":"datum.label!='09:45'"}],"mark":{"type":"point","filled":true,"opacity":1,"size":1369,"color":"#ffffff","shape":"M-1,-.3L.84,-.3L1,-.05L1,.05L.84,.3L-1,.3Z"},"encoding":{"x":{"field":"mid","type":"temporal"},"y":{"field":"ctr","type":"quantitative"}}},
{"data":{"name":"tags"},"transform":[{"filter":"datum.label!='09:45'"}],"mark":{"type":"text","color":"#000000","font":"DejaVu Sans","fontSize":11,"align":"center","baseline":"middle"},"encoding":{"x":{"field":"mid","type":"temporal"},"y":{"field":"ctr","type":"quantitative"},"text":{"field":"label"}}},
{"data":{"name":"boxes"},"transform":[{"filter":"datum.name=='ask'"}],"mark":{"type":"rect","color":"#ff0000"},"encoding":{"x":{"field":"t1","type":"temporal"},"x2":{"field":"t2"},"y":{"field":"p1","type":"quantitative"},"y2":{"field":"p2"}}},
{"data":{"name":"boxes"},"transform":[{"filter":"datum.name=='ask'"}],"mark":{"type":"text","color":"#000000","font":"DejaVu Sans","fontSize":11,"align":"left","baseline":"middle"},"encoding":{"x":{"field":"tx","type":"temporal"},"y":{"field":"ty","type":"quantitative"},"text":{"field":"label"}}},
{"data":{"name":"boxes"},"transform":[{"filter":"datum.name=='bid'"}],"mark":{"type":"rect","color":"#778899"},"encoding":{"x":{"field":"t1","type":"temporal"},"x2":{"field":"t2"},"y":{"field":"p1","type":"quantitative"},"y2":{"field":"p2"}}},
{"data":{"name":"boxes"},"transform":[{"filter":"datum.name=='bid'"}],"mark":{"type":"text","color":"#000000","font":"DejaVu Sans","fontSize":11,"align":"left","baseline":"middle"},"encoding":{"x":{"field":"tx","type":"temporal"},"y":{"field":"ty","type":"quantitative"},"text":{"field":"label"}}},
{"data":{"values":[{"t":"2023-09-27T17:43:07","p":1.053541,"label":"SellSellSellSell"}]},"mark":{"type":"text","color":"#e00000","font":"Liberation Sans","fontSize":18,"align":"left","baseline":"middle"},"encoding":{"x":{"field":"t","type":"temporal"},"y":{"field":"p","type":"quantitative"},"text":{"field":"label"}}},
{"data":{"values":[{"t":"2023-09-27T17:43:07","p":1.053441,"label":"M15H1 H4 D1"}]},"mark":{"type":"text","color":"#e00000","font":"Liberation Sans","fontSize":18,"align":"left","baseline":"middle"},"encoding":{"x":{"field":"t","type":"temporal"},"y":{"field":"p","type":"quantitative"},"text":{"field":"label"}}},
{"data":{"values":[{"t":"2023-09-27T01:55","p":1.057421,"label":"EURUSD, M5:  Euro vs United States Dollar"}]},"mark":{"type":"text","color":"#ffffff","font":"DejaVu Sans","fontSize":11,"align":"left","baseline":"middle"},"encoding":{"x":{"field":"t","type":"temporal"},"y":{"field":"p","type":"quantitative"},"text":{"field":"label"}}},
{"data":{"values":[{"t":"2023-09-27T15:40","p":1.05749}]},"mark":{"type":"point","filled":true,"opacity":1,"shape":"triangle-down","size":50,"color":"#a0a0a0"},"encoding":{"x":{"field":"t","type":"temporal"},"y":{"field":"p","type":"quantitative"}}},
{"data":{"name":"frame"},"mark":{"type":"rect"},"encoding":{"x":{"field":"t1","type":"temporal"},"x2":{"field":"t2"},"y":{"field":"p1","type":"quantitative"},"y2":{"field":"p2"},"color":{"field":"part","type":"nominal","legend":null,"scale":{"domain":["light","gray","flagRed","flagBlue","flagPink","flagSky","ask","bid"],"range":["#f0f0f0","#a0a0a0","#d8302c","#1f6fb8","#f6c6c0","#bfe0f4","#ff0000","#778899"]}}}},
{"data":{"values":[{"t":"2023-09-27T01:50:37","p":1.05762,"label":"EURUSD,M5"}]},"mark":{"type":"text","color":"#7f7f7f","font":"Noto Sans","fontSize":14,"align":"left","baseline":"middle"},"encoding":{"x":{"field":"t","type":"temporal"},"y":{"field":"p","type":"quantitative"},"text":{"field":"label"}}},
{"data":{"values":[{"t":"2023-09-27T01:42:30","p":1.05762}]},"mark":{"type":"point","filled":false,"opacity":1,"size":324,"stroke":"#2db84d","strokeWidth":1.5,"shape":"M-.89,-.44L-.44,-.44L-.44,.44L-.89,.44ZM-.67,-.9L-.67,-.44M-.67,.44L-.67,.9M0,-.55L.55,-.55L.55,.55L0,.55ZM.28,-1L.28,-.55M.28,.55L.28,1"},"encoding":{"x":{"field":"t","type":"temporal"},"y":{"field":"p","type":"quantitative"}}},
{"data":{"values":[{"t":"2023-09-27T18:51:52","p":1.057585}]},"mark":{"type":"point","filled":false,"opacity":1,"size":121,"stroke":"#c0c0c0","strokeWidth":1.5,"shape":"M-1,0L1,0"},"encoding":{"x":{"field":"t","type":"temporal"},"y":{"field":"p","type":"quantitative"}}},
{"data":{"values":[{"t":"2023-09-27T19:18:26","p":1.05761}]},"mark":{"type":"point","filled":false,"opacity":1,"size":121,"stroke":"#c0c0c0","strokeWidth":1.5,"shape":"square"},"encoding":{"x":{"field":"t","type":"temporal"},"y":{"field":"p","type":"quantitative"}}},
{"data":{"values":[{"t":"2023-09-27T19:45:00","p":1.05761}]},"mark":{"type":"point","filled":false,"opacity":1,"size":121,"stroke":"#c0c0c0","strokeWidth":1.5,"shape":"M-1,-1L1,1M-1,1L1,-1"},"encoding":{"x":{"field":"t","type":"temporal"},"y":{"field":"p","type":"quantitative"}}}
]}
